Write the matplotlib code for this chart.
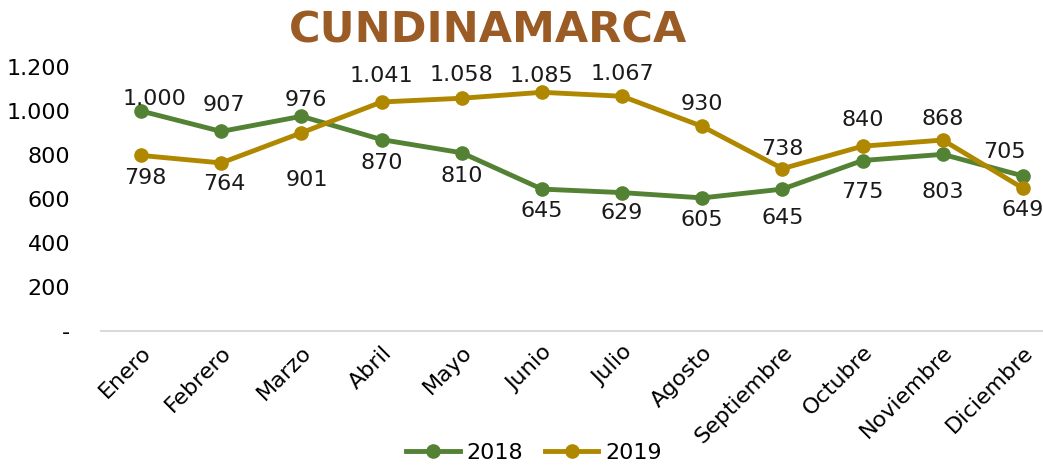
import matplotlib.pyplot as plt
from matplotlib.ticker import FuncFormatter

meses = ["Enero", "Febrero", "Marzo", "Abril", "Mayo", "Junio", "Julio",
         "Agosto", "Septiembre", "Octubre", "Noviembre", "Diciembre"]
v2018 = [1000, 907, 976, 870, 810, 645, 629, 605, 645, 775, 803, 705]
v2019 = [798, 764, 901, 1041, 1058, 1085, 1067, 930, 738, 840, 868, 649]

# label offsets in points (dx, dy)
off2018 = [(10, 9), (2, 19), (3, 12), (0, -17), (0, -17), (0, -16), (0, -15),
           (0, -16), (0, -21), (0, -23), (0, -27), (-13, 17)]
off2019 = [(3, -16), (2, -15), (4, -34), (0, 19), (0, 17), (0, 12), (0, 16),
           (0, 16), (0, 14), (0, 19), (0, 15), (0, -16)]

green = "#548235"
gold = "#B08800"


def miles(v, pos=None):
    if v == 0:
        return "-"
    return f"{v:,.0f}".replace(",", ".")


fig = plt.figure(figsize=(10.43, 4.69), dpi=100)
ax = fig.add_axes([101 / 1043, 1 - 331 / 469, (1043 - 101) / 1043, (331 - 67) / 469])

x = range(len(meses))
ax.plot(x, v2018, color=green, lw=3.5, marker="o", ms=9.5, label="2018", zorder=3)
ax.plot(x, v2019, color=gold, lw=3.5, marker="o", ms=9.5, label="2019", zorder=3)

for i in x:
    for vals, offs in ((v2018, off2018), (v2019, off2019)):
        ax.annotate(miles(vals[i]), (i, vals[i]), xytext=offs[i],
                    textcoords="offset points", ha="center", va="center",
                    fontsize=16, color="#1a1a1a", annotation_clip=False)

ax.set_ylim(0, 1200)
ax.set_xlim(-0.5, 11.25)
ax.set_yticks(range(0, 1201, 200))
ax.yaxis.set_major_formatter(FuncFormatter(miles))
ax.set_xticks(list(x))
ax.set_xticklabels(meses, rotation=45, ha="right", rotation_mode="anchor", fontsize=16)
ax.tick_params(axis="y", labelsize=16, length=0, pad=22)
ax.tick_params(axis="x", length=0, pad=8)
for s in ["top", "right", "left"]:
    ax.spines[s].set_visible(False)
ax.spines["bottom"].set_color("#D9D9D9")
ax.spines["bottom"].set_linewidth(1.5)
ax.set_facecolor("none")

fig.text(0.468, 0.935, "CUNDINAMARCA", ha="center", va="center",
         fontsize=31, fontweight="bold", color="#9A5B25")

fig.legend(loc="center", bbox_to_anchor=(0.512, 0.034), ncol=2, frameon=False,
           fontsize=16, handlelength=2.4, columnspacing=1.0, handletextpad=0.3)

fig.savefig("out.png", dpi=100)
